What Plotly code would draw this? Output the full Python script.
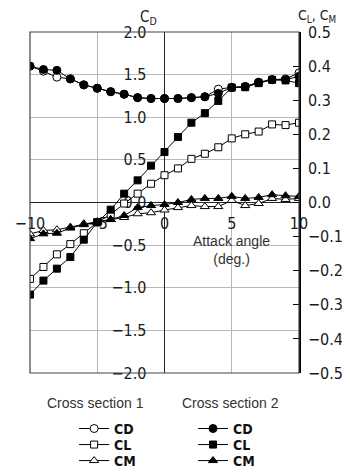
import plotly.graph_objects as go

# ---- data ----
angle = list(range(-10, 11))
cd_1 = [1.60, 1.54, 1.47, 1.45, 1.38, 1.34, 1.30, 1.27, 1.23, 1.22, 1.22,
        1.22, 1.23, 1.24, 1.33, 1.35, 1.36, 1.41, 1.44, 1.45, 1.52]
cd_2 = [1.60, 1.56, 1.55, 1.45, 1.38, 1.34, 1.30, 1.27, 1.23, 1.22, 1.22,
        1.22, 1.23, 1.24, 1.28, 1.35, 1.36, 1.41, 1.44, 1.44, 1.48]
cl_1 = [-0.224, -0.189, -0.152, -0.122, -0.090, -0.058, -0.035, -0.003, 0.026, 0.055, 0.080,
        0.100, 0.128, 0.143, 0.162, 0.188, 0.200, 0.208, 0.229, 0.227, 0.234]
cl_2 = [-0.270, -0.229, -0.194, -0.160, -0.109, -0.058, -0.021, 0.026, 0.065, 0.108, 0.148,
        0.192, 0.234, 0.262, 0.298, 0.337, 0.338, 0.350, 0.360, 0.358, 0.350]
cm_1 = [-0.092, -0.082, -0.080, -0.072, -0.062, -0.056, -0.050, -0.044, -0.033, -0.030, -0.022,
        -0.015, -0.009, -0.012, -0.012, 0.006, -0.009, -0.003, 0.012, 0.009, 0.012]
cm_2 = [-0.106, -0.092, -0.090, -0.075, -0.065, -0.058, -0.050, -0.038, -0.015, -0.009, -0.006,
        0.000, 0.009, 0.012, 0.012, 0.018, 0.012, 0.015, 0.023, 0.020, 0.018]

cd_ticks = [-2.0, -1.5, -1.0, -0.5, 0.0, 0.5, 1.0, 1.5, 2.0]
c_ticks = [-0.5, -0.4, -0.3, -0.2, -0.1, 0.0, 0.1, 0.2, 0.3, 0.4, 0.5]
x_ticks = [-10, -5, 0, 5, 10]

NARROW = "Liberation Sans Narrow, DejaVu Sans Condensed, Arial Narrow, sans-serif"
SANS = "Liberation Sans, Arial, sans-serif"

fig = go.Figure()

def add(y, name, symbol, filled, yaxis, legend):
    fig.add_trace(go.Scatter(
        x=angle, y=y, name=name, mode="lines+markers", yaxis=yaxis, legend=legend,
        line=dict(color="black", width=1),
        marker=dict(symbol=symbol, size=8 if symbol != "square" else 7,
                    color="black" if filled else "white",
                    line=dict(color="black", width=1)),
    ))

add(cd_1, "CD", "circle", False, "y", "legend")
add(cl_1, "CL", "square", False, "y2", "legend2")
add(cm_1, "CM", "triangle-up", False, "y2", "legend3")
add(cd_2, "CD", "circle", True, "y", "legend4")
add(cl_2, "CL", "square", True, "y2", "legend5")
add(cm_2, "CM", "triangle-up", True, "y2", "legend6")

tickfont = dict(family=NARROW, size=16, color="#1a1a1a")
legfont = dict(family=NARROW, size=14, color="#111", weight="bold")

def leg(x, y):
    return dict(x=x, y=y, xanchor="left", yanchor="middle", font=legfont,
                bgcolor="rgba(0,0,0,0)", itemwidth=30, borderwidth=0)

row_y = [-0.164, -0.211, -0.258]
col_x = [0.164, 0.606]

fig.update_layout(
    width=342, height=465,
    margin=dict(l=22, r=51, t=24, b=100, autoexpand=False),
    paper_bgcolor="white", plot_bgcolor="white",
    showlegend=True,
    xaxis=dict(range=[-10, 10], tickvals=x_ticks, showgrid=True, gridcolor="#b8b8b8",
               gridwidth=1, zeroline=True, zerolinecolor="#222", zerolinewidth=1.2,
               anchor="free", position=0.5, showline=False, ticks="",
               tickfont=tickfont, ticklabelstandoff=9, layer="below traces"),
    yaxis=dict(range=[-2, 2], tickvals=cd_ticks, tickformat=".1f", showgrid=True,
               gridcolor="#b8b8b8", gridwidth=1, zeroline=True, zerolinecolor="#222",
               zerolinewidth=1.2, anchor="free", position=0.5, side="left",
               showline=False, ticks="", tickfont=tickfont, ticklabelstandoff=18,
               layer="below traces"),
    yaxis2=dict(range=[-0.5, 0.5], tickvals=c_ticks, tickformat=".1f", overlaying="y",
                side="right", anchor="x", showgrid=False, zeroline=False,
                showline=True, linecolor="black", linewidth=1.5,
                ticks="inside", ticklen=6, tickcolor="black", tickfont=tickfont,
                ticklabelstandoff=4),
    legend=leg(col_x[0], row_y[0]),
    legend2=leg(col_x[0], row_y[1]),
    legend3=leg(col_x[0], row_y[2]),
    legend4=leg(col_x[1], row_y[0]),
    legend5=leg(col_x[1], row_y[1]),
    legend6=leg(col_x[1], row_y[2]),
    shapes=[dict(type="rect", xref="paper", yref="paper", x0=0, x1=1, y0=0, y1=1,
                 line=dict(color="#444", width=1.2), layer="above")],
    annotations=[
        dict(text="C<sub>D</sub>", xref="paper", yref="paper", x=0.441, y=1.0,
             xanchor="center", yanchor="bottom", yshift=3, showarrow=False,
             font=dict(family=NARROW, size=15, color="#222")),
        dict(text="C<sub>L</sub>, C<sub>M</sub>", xref="paper", yref="paper", x=1.067,
             y=1.0, xanchor="center", yanchor="bottom", yshift=5, showarrow=False,
             font=dict(family=NARROW, size=14, color="#222")),
        dict(text="Attack angle<br>(deg.)", xref="paper", yref="paper", x=0.75, y=0.36,
             xanchor="center", yanchor="middle", showarrow=False,
             font=dict(family=SANS, size=14, color="#333")),
        dict(text="Cross section 1", xref="paper", yref="paper", x=0.245, y=-0.088,
             xanchor="center", yanchor="middle", showarrow=False,
             font=dict(family=SANS, size=14, color="#333")),
        dict(text="Cross section 2", xref="paper", yref="paper", x=0.745, y=-0.088,
             xanchor="center", yanchor="middle", showarrow=False,
             font=dict(family=SANS, size=14, color="#333")),
    ],
)

fig.write_html("out.html")
